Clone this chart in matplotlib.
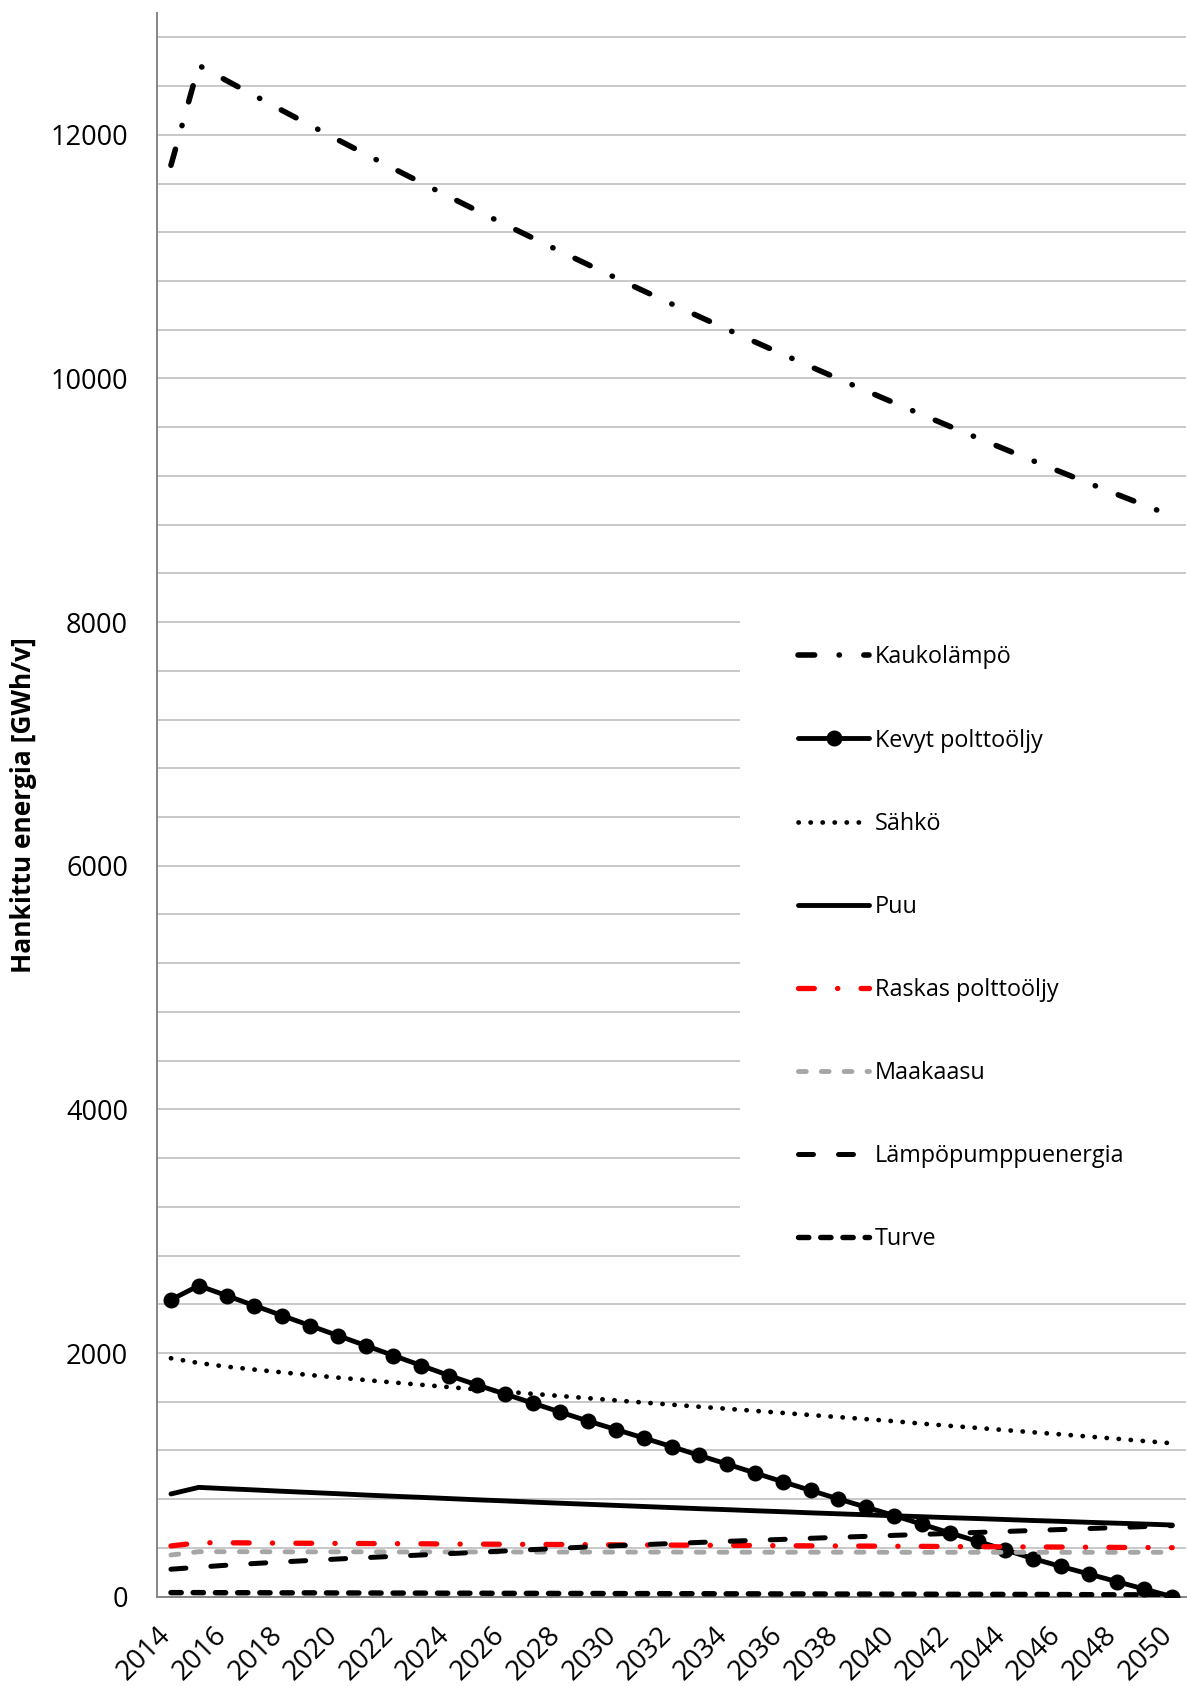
import matplotlib.pyplot as plt
from matplotlib.patches import Rectangle
from matplotlib.transforms import ScaledTranslation

years = list(range(2014, 2051))

kaukolampo = [11750, 12570, 12445, 12322, 12200, 12079, 11959, 11841, 11723, 11607,
              11492, 11378, 11265, 11154, 11043, 10934, 10825, 10718, 10612, 10507,
              10403, 10300, 10198, 10097, 9997, 9898, 9800, 9703, 9607, 9512,
              9418, 9324, 9232, 9140, 9050, 8960, 8871]
kevyt_oljy = [2437, 2553, 2471, 2389, 2307, 2225, 2143, 2061, 1979, 1897,
              1815, 1738, 1664, 1589, 1515, 1441, 1372, 1302, 1232, 1159,
              1088, 1015, 943, 872, 802, 734, 666, 594, 524, 454,
              384, 312, 248, 186, 124, 62, 0]
sahko = [1957, 1918, 1888, 1864, 1841, 1819, 1798, 1778, 1758, 1739,
         1720, 1701, 1683, 1665, 1647, 1629, 1611, 1593, 1576, 1559,
         1542, 1525, 1508, 1491, 1474, 1457, 1440, 1420, 1402, 1385,
         1367, 1349, 1332, 1314, 1296, 1277, 1259]
puu = [843, 897, 886, 876, 865, 855, 845, 834, 824, 815,
       805, 795, 786, 776, 767, 758, 749, 740, 731, 722,
       714, 705, 697, 688, 680, 672, 664, 656, 648, 641,
       633, 625, 618, 610, 603, 596, 588]
raskas_oljy = [416, 443, 442, 441, 439, 438, 437, 436, 435, 434,
               432, 431, 430, 429, 428, 427, 425, 424, 423, 422,
               421, 420, 418, 417, 416, 415, 414, 413, 411, 410,
               409, 408, 407, 406, 404, 403, 402]
maakaasu = [342, 369, 369, 369, 368, 368, 368, 368, 367, 367,
            367, 367, 367, 366, 366, 366, 366, 366, 366, 365,
            365, 365, 365, 365, 365, 365, 364, 364, 364, 364,
            364, 364, 364, 364, 364, 364, 364]
lampopumppu = [225, 242, 258, 272, 285, 297, 309, 320, 331, 342,
               353, 364, 375, 386, 397, 408, 418, 427, 436, 445,
               454, 462, 470, 479, 487, 495, 503, 511, 519, 527,
               535, 543, 551, 559, 567, 575, 583]
turve = [33, 33, 32, 32, 31, 31, 30, 30, 29, 29,
         28, 28, 27, 27, 26, 26, 25, 25, 24, 24,
         23, 23, 22, 22, 21, 21, 20, 20, 19, 19,
         18, 18, 17, 16, 15, 15, 14]

plt.rcParams['font.family'] = ['Open Sans', 'DejaVu Sans']

fig = plt.figure(figsize=(11.88, 16.86), dpi=100)
ax = fig.add_axes([0.1322, 0.0530, 0.8662, 0.9393])

dashdot = (0, (3.0, 4.4, 0.05, 4.4))
common = dict(dash_capstyle='round', solid_capstyle='round', zorder=3)

ax.plot(years, kaukolampo, color='black', lw=4.0, ls=dashdot, label='Kaukolämpö', **common)
ax.plot(years, kevyt_oljy, color='black', lw=3.5, marker='o', markersize=10.5,
        label='Kevyt polttoöljy', **common)
ax.plot(years, sahko, color='black', lw=3.4, ls=(0, (0.05, 2.5)), label='Sähkö', **common)
ax.plot(years, puu, color='black', lw=3.5, label='Puu', **common)
ax.plot(years, raskas_oljy, color='#FF0000', lw=3.8, ls=dashdot,
        label='Raskas polttoöljy', **common)
ax.plot(years, maakaasu, color='#A6A6A6', lw=3.5, ls=(0, (1.6, 3.1)), label='Maakaasu', **common)
ax.plot(years, lampopumppu, color='black', lw=3.6, ls=(0, (3.0, 5.0)),
        label='Lämpöpumppuenergia', **common)
ax.plot(years, turve, color='black', lw=3.9, ls=(0, (1.9, 2.2)), label='Turve', **common)

ax.set_xlim(2013.5, 2050.5)
ax.set_ylim(0, 13000)

yt = list(range(0, 13000, 400))
ax.set_yticks(yt)
ax.set_yticklabels([str(v) if v % 2000 == 0 else '' for v in yt], fontsize=19.5)
ax.set_xticks(years[::2])
ax.set_xticklabels([str(y) for y in years[::2]], fontsize=20, rotation=45, ha='right')
ax.tick_params(axis='y', length=0, pad=21)
ax.tick_params(axis='x', length=0, pad=18)
shift = ScaledTranslation(6 / 100, 0, fig.dpi_scale_trans)
for lab in ax.get_xticklabels():
    lab.set_transform(lab.get_transform() + shift)

ax.set_axisbelow(True)
ax.grid(axis='y', color='#BFBFBF', lw=1.2)
for side in ['top', 'right']:
    ax.spines[side].set_visible(False)
for side in ['left', 'bottom']:
    ax.spines[side].set_color('#868686')
    ax.spines[side].set_linewidth(1.4)

# white area behind the legend
ax.add_patch(Rectangle((0.5666, 2600), 0.4334, 5600, transform=ax.get_yaxis_transform(),
                       facecolor='white', edgecolor='none', zorder=1))

ax.legend(loc='upper left', bbox_to_anchor=(0.6717, 0.6172), bbox_transform=fig.transFigure,
          frameon=False, fontsize=16.8, handlelength=3.05, handletextpad=0.26,
          labelspacing=2.535, borderpad=0, borderaxespad=0)

fig.text(24 / 1188, 1 - 805 / 1686, 'Hankittu energia [GWh/v]', rotation=90,
         ha='center', va='center', fontsize=19, fontweight='bold')

fig.savefig('out.png', dpi=100)
